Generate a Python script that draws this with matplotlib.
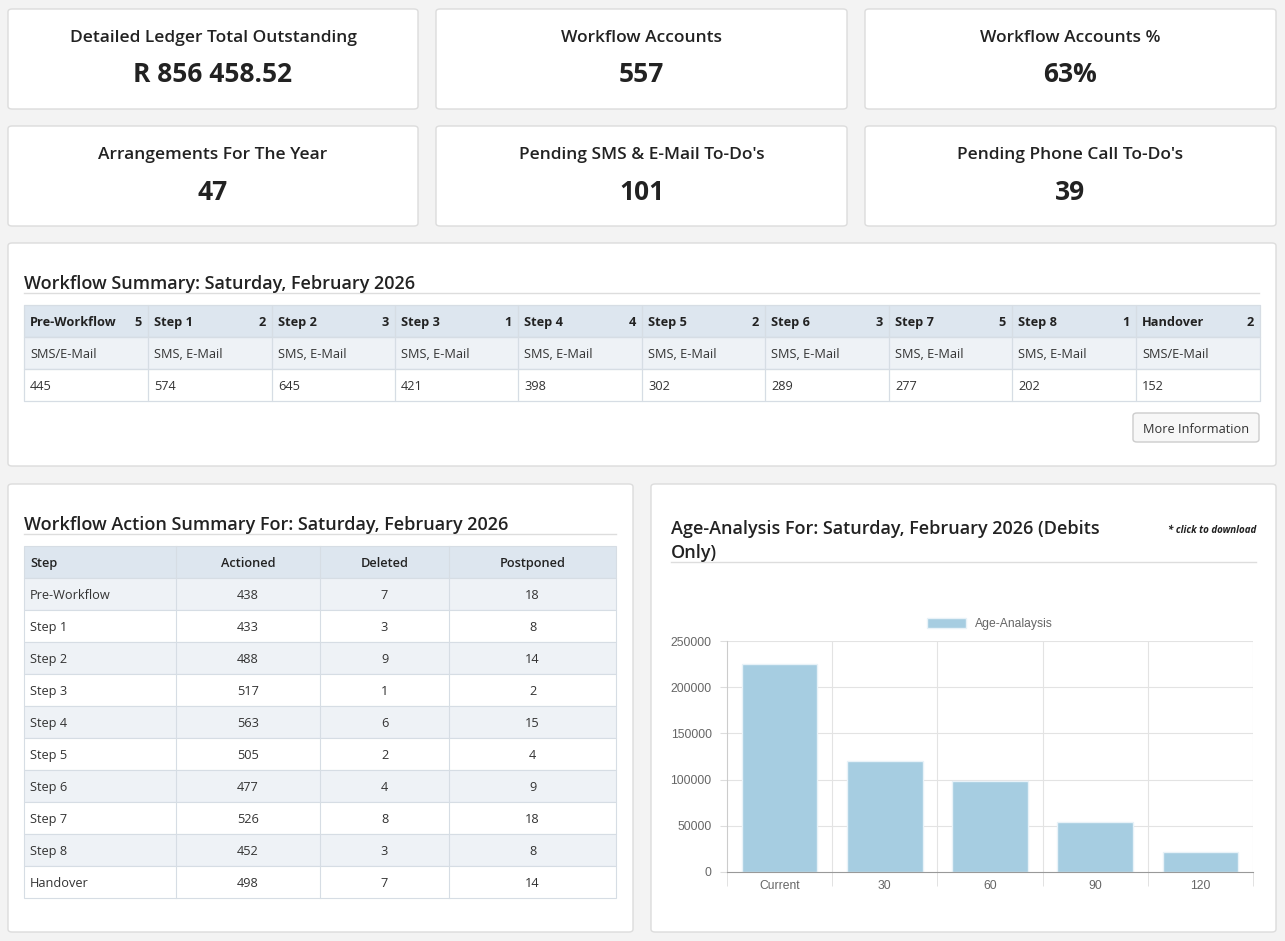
import matplotlib
matplotlib.use("Agg")
import matplotlib.pyplot as plt
from matplotlib.patches import Rectangle, FancyBboxPatch

plt.rcParams['font.family'] = ['Open Sans', 'DejaVu Sans']

W, H = 1285, 941
kpi_titles = ["Detailed Ledger Total Outstanding", "Workflow Accounts", "Workflow Accounts %",
              "Arrangements For The Year", "Pending SMS & E-Mail To-Do's", "Pending Phone Call To-Do's"]
kpi_values = ["R 856 458.52", "557", "63%", "47", "101", "39"]

wf_steps = ["Pre-Workflow", "Step 1", "Step 2", "Step 3", "Step 4", "Step 5", "Step 6", "Step 7", "Step 8", "Handover"]
wf_counts = [5, 2, 3, 1, 4, 2, 3, 5, 1, 2]
wf_types = ["SMS/E-Mail"] + ["SMS, E-Mail"] * 8 + ["SMS/E-Mail"]
wf_values = [445, 574, 645, 421, 398, 302, 289, 277, 202, 152]

act_cols = ["Step", "Actioned", "Deleted", "Postponed"]
actioned = [438, 433, 488, 517, 563, 505, 477, 526, 452, 498]
deleted = [7, 3, 9, 1, 6, 2, 4, 8, 3, 7]
postponed = [18, 8, 14, 2, 15, 4, 9, 18, 8, 14]

age_labels = ["Current", "30", "60", "90", "120"]
age_values = [225000, 120000, 98000, 54500, 21500]

fig = plt.figure(figsize=(W/100, H/100), dpi=100)
fig.patch.set_facecolor('#f3f3f3')

def fx(x): return x / W
def fy(y): return 1 - y / H

def rect(x0, y0, x1, y1, fc, ec='none', lw=1.0, z=1):
    fig.patches.append(Rectangle((fx(x0), fy(y1)), fx(x1) - fx(x0), fy(y0) - fy(y1),
                                 transform=fig.transFigure, fc=fc, ec=ec, lw=lw, zorder=z))

def card(x0, y0, x1, y1):
    fig.patches.append(FancyBboxPatch((fx(x0), fy(y1)), fx(x1) - fx(x0), fy(y0) - fy(y1),
                                      boxstyle="round,pad=0,rounding_size=0.003",
                                      transform=fig.transFigure, fc='white', ec='#dcdcdc', lw=1, zorder=0.5))

def txt(x, y, s, size=9.5, ha='left', weight='normal', color='#333333', style='normal', z=5):
    fig.text(fx(x), fy(y), s, ha=ha, va='center_baseline', fontsize=size, weight=weight, color=color, style=style, zorder=z)

def hline(x0, x1, y, color='#dddddd', lw=1):
    fig.add_artist(plt.Line2D([fx(x0), fx(x1)], [fy(y), fy(y)], transform=fig.transFigure, color=color, lw=lw, zorder=3))

# KPI cards
xs = [(8, 418), (436, 847), (865, 1276)]
ys = [(9, 109), (126, 226)]
for i, (t, v) in enumerate(zip(kpi_titles, kpi_values)):
    x0, x1 = xs[i % 3]
    y0, y1 = ys[i // 3]
    card(x0, y0, x1, y1)
    cx = (x0 + x1) / 2
    txt(cx, y0 + 27, t, size=12.5, ha='center', weight='semibold', color='#222222')
    txt(cx, y0 + 63, v, size=19, ha='center', weight='bold', color='#222222')

# Workflow summary
card(8, 243, 1276, 466)
txt(24, 282, "Workflow Summary: Saturday, February 2026", size=13, weight='semibold', color='#222222')
hline(24, 1259, 293)
bounds = [24, 148, 272, 395, 518, 642, 765, 889, 1012, 1136, 1260]
rows = [(305, 337, '#dde6ef'), (337, 369, '#eef2f6'), (369, 401, 'white')]
for y0, y1, c in rows:
    rect(24, y0, 1260, y1, c, ec='#d6dde4', lw=0.8)
for i in range(10):
    x0, x1 = bounds[i], bounds[i + 1]
    for y0, y1, c in rows:
        rect(x0, y0, x1, y1, 'none', ec='#d6dde4', lw=0.8, z=2)
    txt(x0 + 6, 321, wf_steps[i], size=9.2, weight='bold', color='#222222')
    txt(x1 - 6, 321, str(wf_counts[i]), size=9.2, ha='right', weight='bold', color='#222222')
    txt(x0 + 6, 353, wf_types[i], size=9.2)
    txt(x0 + 6, 385, str(wf_values[i]), size=9.2)
fig.patches.append(FancyBboxPatch((fx(1133), fy(442)), fx(1259) - fx(1133), fy(413) - fy(442),
                                  boxstyle="round,pad=0,rounding_size=0.003", transform=fig.transFigure,
                                  fc='#f7f7f7', ec='#cccccc', lw=1, zorder=2))
txt(1196, 428, "More Information", size=9.2, ha='center')

# Action summary
card(8, 484, 633, 932)
txt(24, 523, "Workflow Action Summary For: Saturday, February 2026", size=13, weight='semibold', color='#222222')
hline(24, 616, 534)
cb = [24, 176, 320, 449, 616]
rect(24, 546, 616, 578, '#dde6ef', ec='#d6dde4', lw=0.8)
for j, c in enumerate(act_cols):
    if j == 0:
        txt(cb[0] + 6, 562, c, size=9.2, weight='semibold', color='#222222')
    else:
        txt((cb[j] + cb[j + 1]) / 2, 562, c, size=9.2, ha='center', weight='semibold', color='#222222')
for r in range(10):
    y0 = 578 + 32 * r
    y1 = y0 + 32
    rect(24, y0, 616, y1, '#eef2f6' if r % 2 == 0 else 'white', ec='#d6dde4', lw=0.8)
    vals = [wf_steps[r], actioned[r], deleted[r], postponed[r]]
    for j, v in enumerate(vals):
        if j == 0:
            txt(cb[0] + 6, (y0 + y1) / 2, str(v), size=9.2)
        else:
            txt((cb[j] + cb[j + 1]) / 2, (y0 + y1) / 2, str(v), size=9.2, ha='center')
for xb in cb[1:-1]:
    fig.add_artist(plt.Line2D([fx(xb), fx(xb)], [fy(546), fy(898)], transform=fig.transFigure,
                              color='#d6dde4', lw=0.8, zorder=3))

# Age analysis
card(651, 484, 1276, 932)
txt(671, 527, "Age-Analysis For: Saturday, February 2026 (Debits", size=13, weight='semibold', color='#222222')
txt(671, 551, "Only)", size=13, weight='semibold', color='#222222')
txt(1256, 529, "* click to download", size=7, ha='right', weight='bold', style='italic', color='#222222')
hline(671, 1256, 562)

ax = fig.add_axes([fx(727), fy(872), fx(1253) - fx(727), fy(641) - fy(872)])
ax.set_zorder(2)
ax.set_facecolor('white')
xpos = range(len(age_labels))
ax.bar(xpos, age_values, width=0.72, color='#a6cde1', edgecolor='#e8f2f8', lw=1, label='Age-Analaysis', zorder=2)
ax.set_xlim(-0.5, 4.5)
ax.set_ylim(0, 250000)
ax.set_yticks([0, 50000, 100000, 150000, 200000, 250000])
ax.set_yticklabels(['0', '50000', '100000', '150000', '200000', '250000'])
ax.set_xticks(list(xpos))
ax.set_xticklabels(age_labels)
ax.set_xticks([-0.5, 0.5, 1.5, 2.5, 3.5, 4.5], minor=True)
ax.grid(False)
for yv in [50000, 100000, 150000, 200000, 250000]:
    ax.axhline(yv, color='#e3e3e3', lw=0.8, zorder=1)
for xv in [0.5, 1.5, 2.5, 3.5, 4.5]:
    ax.axvline(xv, color='#e3e3e3', lw=0.8, zorder=1)
for s in ['top', 'right']:
    ax.spines[s].set_visible(False)
ax.spines['left'].set_color('#cccccc')
ax.spines['bottom'].set_color('#999999')
ax.tick_params(axis='both', which='major', labelsize=8.7, colors='#666666', length=0, pad=6)
ax.tick_params(axis='x', which='minor', length=10, color='#dddddd')
ax.tick_params(axis='y', length=5, color='#dddddd')
for lab in ax.get_xticklabels() + ax.get_yticklabels():
    lab.set_fontfamily(['Liberation Sans', 'DejaVu Sans'])
leg = ax.legend(loc='lower center', bbox_to_anchor=(0.5, 1.0), frameon=False,
                handlelength=3.2, handleheight=1.0, prop={'family': 'Liberation Sans', 'size': 8.7})
for t in leg.get_texts():
    t.set_color('#666666')

fig.savefig('out.png', dpi=100, facecolor=fig.get_facecolor())
